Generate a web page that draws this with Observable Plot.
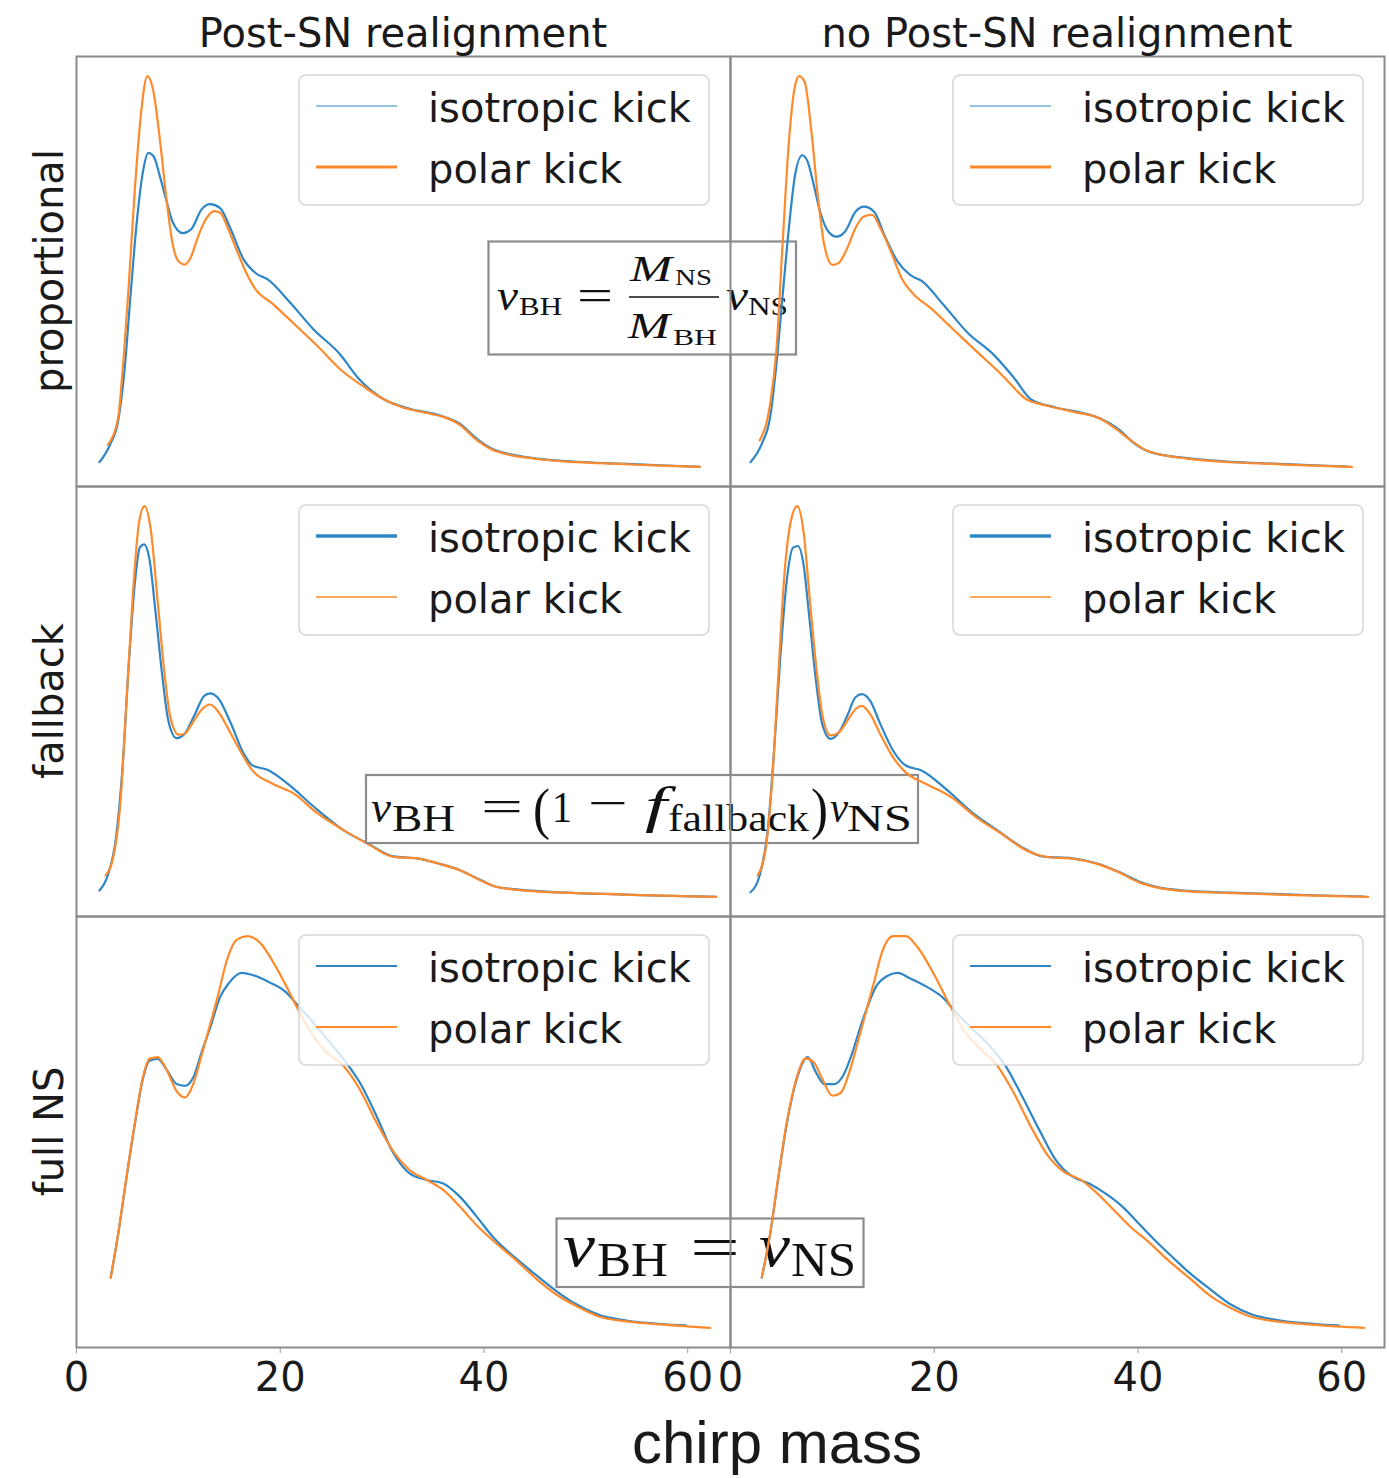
<!DOCTYPE html>
<html><head><meta charset="utf-8">
<script src="https://cdn.jsdelivr.net/npm/d3@7"></script>
<script src="https://cdn.jsdelivr.net/npm/@observablehq/plot@0.6"></script>
<style>
html,body{margin:0;padding:0;background:#fff;}
#chart{position:relative;width:1389px;height:1478px;overflow:hidden;background:#fff;}
#chart > svg{position:absolute;}
</style></head><body><div id="chart"></div>
<script>
// ---------- labels ----------
const columnTitles = ["Post-SN realignment", "no Post-SN realignment"];
const rowLabels = ["proportional", "fallback", "full NS"];
const seriesNames = ["isotropic kick", "polar kick"];
const xTicks = [0, 20, 40, 60];
const xLabel = "chirp mass";

// ---------- data: [chirp mass, density (arb. units)] ----------
const isoPropRealign = [[2.25,5.8],[3.28,9.8],[4.1,15.5],[4.71,27],[5.32,45],[5.94,62],[6.55,73.5],[7.04,77.5],[7.57,76.7],[8.18,72.1],[8.8,66.7],[9.42,61.6],[10.43,58.9],[11.26,59.8],[12.28,64.4],[13.1,65.6],[14.1,64.7],[15.14,59.8],[16.4,52.8],[17.6,49.6],[18.8,48.1],[20.9,43.0],[23.3,36.5],[25.8,31.0],[27.8,24.9],[30.3,20.2],[32.7,18.2],[35.6,16.7],[37.65,14.7],[39.3,11.2],[40.9,8.8],[45.0,6.7],[49.1,5.9],[53.2,5.5],[57.3,5.1],[61.2,4.7]];
const polarPropRealign = [[3.07,9.8],[4.1,16.3],[4.5,26.3],[5.1,45.8],[5.73,69.1],[6.34,86.8],[6.96,95.3],[7.57,91.5],[8.18,80.7],[8.8,67.4],[9.42,56.6],[10.03,52.3],[10.64,51.6],[11.26,53.5],[11.87,57.7],[12.7,62.1],[13.5,64.0],[14.1,63.6],[14.9,59.8],[15.7,55.1],[16.6,50.0],[17.6,45.8],[19.2,42.6],[21.3,38.0],[23.7,32.6],[26.2,26.7],[28.2,23.3],[30.3,20.2],[31.9,18.6],[34.8,17.0],[36.0,16.3],[37.65,14.4],[39.3,10.9],[40.9,8.6],[45.0,6.6],[49.1,5.8],[53.2,5.4],[57.3,5.0],[61.2,4.7]];
const isoPropNo = [[1.96,5.8],[3.07,10.1],[3.89,16.3],[4.5,28.5],[5.11,44.5],[5.73,60.5],[6.34,72.9],[7.04,77.5],[7.57,76.0],[8.18,70.5],[8.8,64.3],[9.6,59.7],[10.4,58.5],[11.25,59.7],[12.27,64.3],[13.1,65.5],[14.1,64.3],[15.1,58.9],[16.4,52.7],[17.6,49.6],[18.8,48.1],[20.9,42.6],[23.3,36.0],[25.8,31.0],[27.8,25.6],[29.5,20.5],[31.9,18.6],[34.8,17.2],[36.4,15.9],[38.05,13.6],[39.7,10.1],[41.3,8.1],[45,6.7],[49.1,5.9],[53.2,5.5],[57.3,5.1],[60.6,4.8]];
const polarPropNo = [[2.86,10.9],[3.89,19.4],[4.5,31.8],[5.11,56.6],[5.73,80.6],[6.34,93.8],[6.75,96.0],[7.28,94.6],[7.98,82.2],[8.6,67.4],[9.2,56.6],[10.0,51.9],[10.6,52.3],[11.46,55.8],[12.27,60.5],[13.1,63.2],[13.9,63.6],[14.7,60.5],[15.75,55.0],[16.8,48.8],[18.0,45.0],[19.6,41.9],[21.7,37.2],[24.1,31.8],[26.6,26.3],[29.05,20.5],[31.1,19.0],[34.0,17.4],[36.0,16.3],[37.6,14.0],[39.3,10.9],[40.9,8.5],[45,6.6],[49.1,5.8],[53.2,5.4],[57.3,5.0],[61.0,4.7]];
const isoFallRealign = [[2.25,6.2],[3.07,9.7],[3.89,18.6],[4.5,34.1],[5.1,57.4],[5.73,77.5],[6.22,85.7],[6.63,86.4],[7.16,83.0],[7.77,70.5],[8.39,56.6],[9.0,45.7],[9.82,41.5],[10.64,42.6],[11.67,47.3],[12.5,51.2],[13.1,51.9],[13.9,50.8],[15.14,45.0],[16.4,38.0],[17.2,35.3],[18.8,34.1],[20.9,30.6],[23.3,25.6],[26.2,20.2],[28.6,17.1],[31.1,14.1],[33.6,13.6],[35.6,12.4],[37.65,10.9],[39.7,8.6],[41.3,7.0],[45,6.1],[49.1,5.6],[53.2,5.3],[57.3,5.0],[62.8,4.7]];
const polarFallRealign = [[2.86,9.7],[3.68,14.7],[4.3,26.3],[4.9,49.6],[5.52,74.4],[6.14,91.5],[6.67,95.3],[7.28,90.0],[7.98,72.9],[8.6,57.4],[9.2,46.5],[10.03,42.3],[10.64,42.6],[11.46,45.3],[12.28,48.1],[13.1,49.3],[13.9,47.7],[15.14,42.6],[16.4,37.2],[17.2,34.2],[19.2,31.0],[21.3,28.7],[23.7,24.0],[26.2,20.2],[28.6,17.0],[31.1,14.0],[33.6,13.6],[35.6,12.4],[37.65,10.9],[39.7,8.5],[41.3,7.0],[45,6.0],[49.1,5.6],[53.2,5.3],[57.3,5.0],[62.8,4.7]];
const isoFallNo = [[1.96,5.8],[2.86,9.7],[3.68,20.9],[4.3,39.5],[4.91,61.2],[5.52,78.3],[6.14,86.0],[6.63,86.4],[7.16,82.2],[7.77,69.0],[8.39,55.0],[9.0,45.0],[9.82,41.5],[10.64,43.0],[11.46,46.9],[12.27,51.2],[12.9,51.9],[13.7,50.4],[14.7,45.0],[15.96,38.8],[17.2,35.3],[18.8,34.1],[21.3,29.5],[23.7,24.4],[26.2,20.2],[28.6,16.3],[30.7,14.1],[33.55,13.7],[36.0,12.5],[38.05,10.6],[40.1,8.3],[41.7,7.1],[45,6.1],[49.1,5.7],[53.2,5.4],[57.3,5.1],[62.2,4.8]];
const polarFallNo = [[2.66,9.7],[3.48,16.3],[4.09,31.8],[4.7,56.6],[5.32,80.6],[5.93,92.3],[6.55,95.7],[7.16,89.9],[7.77,74.4],[8.39,58.9],[9.0,47.3],[9.82,42.3],[10.64,43.0],[11.46,45.7],[12.27,48.4],[12.9,49.2],[13.7,47.3],[14.7,42.6],[15.96,37.2],[17.2,33.7],[19.2,31.0],[21.7,27.9],[24.1,23.3],[26.6,19.4],[29.05,15.5],[31.1,14.0],[33.55,13.6],[36.0,12.4],[38.05,10.5],[40.1,8.1],[41.7,7.0],[45,6.0],[49.1,5.6],[53.2,5.3],[57.3,5.0],[62.6,4.7]];
const isoNSRealign = [[3.36,16.5],[4.09,26.5],[4.91,39.5],[5.73,51.9],[6.55,62.6],[7.16,66.5],[7.98,66.9],[8.8,64.6],[9.82,61.1],[10.64,60.7],[11.46,62.6],[12.28,68.4],[13.1,73.9],[14.1,81.2],[14.94,84.3],[16.2,86.7],[17.2,86.3],[18.8,84.7],[20.5,82.4],[21.7,79.3],[22.9,76.2],[24.55,71.6],[26.2,66.9],[27.8,61.5],[29.46,53.7],[31.1,45.2],[32.7,40.5],[34.4,39.0],[36.0,38.2],[37.65,35.1],[39.3,30.5],[40.9,25.8],[43.0,21.2],[45.0,17.3],[47.1,13.4],[49.1,10.3],[51.2,8.0],[54.0,6.6],[57.3,5.8],[59.8,5.5]];
const polarNSRealign = [[3.36,16.5],[4.09,26.6],[4.91,39.8],[5.73,52.2],[6.55,63.0],[7.16,66.9],[7.98,67.3],[8.8,64.6],[9.82,59.5],[10.64,58.0],[11.46,61.1],[12.28,67.7],[13.1,74.7],[13.9,81.6],[14.73,89.4],[15.75,94.4],[16.78,95.2],[18.0,93.7],[19.65,87.8],[20.87,82.4],[21.7,78.5],[22.9,73.5],[24.55,68.4],[26.2,65.3],[27.8,59.9],[29.46,52.2],[31.1,45.6],[32.7,41.3],[34.4,39.0],[36.0,36.7],[37.65,32.8],[39.3,28.5],[40.9,25.0],[43.0,20.8],[45.0,16.5],[47.1,12.6],[49.1,9.9],[51.2,7.6],[54.0,6.4],[57.3,5.7],[62.2,4.9]];
const isoNSNo = [[3.07,16.5],[3.89,26.5],[4.7,39.5],[5.52,51.9],[6.55,62.6],[7.57,67.3],[8.39,63.8],[9.2,61.1],[10.2,61.1],[11.05,63.0],[11.87,67.7],[12.7,73.9],[13.5,79.3],[14.3,83.6],[15.3,85.9],[16.4,86.7],[17.6,85.5],[19.2,83.6],[20.9,80.9],[22.1,77.7],[23.7,73.9],[25.4,70.0],[27.0,65.3],[28.6,58.4],[30.3,50.6],[31.9,43.7],[33.55,39.8],[35.2,38.2],[36.8,35.9],[38.5,32.8],[40.1,28.9],[41.7,25.0],[43.4,21.2],[45,17.7],[47.1,13.8],[49.1,10.3],[51.2,8.0],[54.0,6.6],[57.3,5.8],[59.7,5.5]];
const polarNSNo = [[3.07,16.5],[3.89,26.6],[4.7,39.8],[5.52,52.2],[6.55,63.0],[7.36,67.0],[8.18,66.1],[9.0,62.3],[10.0,58.4],[10.84,59.1],[11.66,63.8],[12.5,70.8],[13.3,77.7],[14.1,84.7],[14.9,91.7],[15.96,95.2],[17.2,95.2],[18.4,92.5],[20.0,86.3],[21.7,78.5],[22.9,73.5],[24.55,69.2],[26.2,65.3],[27.8,59.1],[29.46,51.4],[31.1,44.8],[32.7,40.9],[34.4,39.0],[36.0,35.9],[37.65,32.0],[39.3,28.1],[40.9,25.0],[43.0,20.4],[45,16.5],[47.1,12.3],[49.1,9.5],[51.2,7.4],[54.0,6.3],[57.3,5.6],[62.2,4.9]];

// ---------- layout / style ----------
const blue = "#2f86c6", orange = "#fe8a2c";
const panelW = 654, rowH = [430, 430, 431];
const colX = [76, 730], rowY = [56, 486, 916];
const pad = 2;
const legendWidths = [[1.2, 3], [3.5, 1.5], [2.2, 2.2]];
const sansFont = "'DejaVu Sans', sans-serif";
const serifFont = "'Liberation Serif', 'DejaVu Serif', serif";

const panels = [
  {row:0, col:0, iso: isoPropRealign, polar: polarPropRealign},
  {row:1, col:0, iso: isoFallRealign, polar: polarFallRealign},
  {row:2, col:0, iso: isoNSRealign, polar: polarNSRealign},
  {row:0, col:1, iso: isoPropNo, polar: polarPropNo},
  {row:1, col:1, iso: isoFallNo, polar: polarFallNo},
  {row:2, col:1, iso: isoNSNo, polar: polarNSNo}
];

const chart = d3.select("#chart");

function drawPanel(p) {
  const vals = [...p.iso, ...p.polar].map(d => d[1]);
  const lo = d3.min(vals), hi = d3.max(vals), r = hi - lo;
  const withAxis = p.row === 2;
  const mb = withAxis ? 70 : pad;
  const marks = [
    Plot.line(p.iso, {x: d => d[0], y: d => d[1], stroke: blue, strokeWidth: 2.2, curve: "monotone-x"}),
    Plot.line(p.polar, {x: d => d[0], y: d => d[1], stroke: orange, strokeWidth: 2.2, curve: "monotone-x"}),
    Plot.frame({stroke: "#8a8a8a", strokeWidth: 2})
  ];
  if (withAxis) marks.push(Plot.axisX(xTicks, {tickSize: 6, tickPadding: 9, stroke: "#999", fill: "#1a1a1a", label: null}));
  const svg = Plot.plot({
    width: panelW + 2 * pad,
    height: rowH[p.row] + pad + mb,
    marginLeft: pad, marginRight: pad, marginTop: pad, marginBottom: mb,
    x: {domain: [0, 64.2], axis: withAxis ? undefined : null},
    y: {domain: [lo - 0.05 * r, hi + 0.05 * r], axis: null},
    style: {background: "transparent", fontFamily: sansFont, fontSize: "40px", overflow: "visible", color: "#1a1a1a"},
    marks
  });
  svg.style.position = "absolute";
  svg.style.left = (colX[p.col] - pad) + "px";
  svg.style.top = (rowY[p.row] - pad) + "px";
  svg.style.maxWidth = "none";

  // legend
  const g = d3.select(svg).append("g").attr("text-anchor", "start");
  const lx = pad + 223, ly = pad + 19;
  g.append("rect").attr("x", lx).attr("y", ly).attr("width", 410).attr("height", 130)
    .attr("rx", 7).attr("fill", "white").attr("fill-opacity", 0.8)
    .attr("stroke", "#d6d6d6").attr("stroke-width", 1.5);
  const legY = [50, 111];
  seriesNames.forEach((name, i) => {
    const yy = pad + legY[i];
    g.append("line").attr("x1", lx + 17).attr("x2", lx + 98).attr("y1", yy).attr("y2", yy)
      .attr("stroke", i === 0 ? blue : orange).attr("stroke-width", legendWidths[p.row][i]);
    g.append("text").attr("x", lx + 129).attr("y", yy + 15.5).attr("text-anchor", "start")
      .attr("font-family", sansFont).attr("font-size", 40).attr("fill", "#1a1a1a").text(name);
  });
  chart.node().appendChild(svg);
}

// left column first
panels.filter(p => p.col === 0).forEach(drawPanel);

// formula boxes (between left and right columns in z-order)
const boxes = chart.append("svg").attr("width", 1389).attr("height", 1478)
  .style("left", "0px").style("top", "0px").style("pointer-events", "none");
const formulas = [
  {rect: [488.5, 241.5, 307.5, 113], bar: [629, 719, 297], pieces: [
    {t:"v",x:497,y:310,s:44,i:1,w:21},{t:"BH",x:519,y:315,s:25,w:43},{t:"=",x:577,y:310,s:44,w:36},
    {t:"M",x:630,y:281,s:36,i:1,w:42},{t:"NS",x:675,y:285,s:23,w:37},
    {t:"M",x:628,y:338,s:36,i:1,w:42},{t:"BH",x:673,y:345,s:23,w:44},
    {t:"v",x:726,y:310,s:44,i:1,w:22},{t:"NS",x:748,y:315,s:25,w:40}]},
  {rect: [366, 775, 552, 68], pieces: [
    {t:"v",x:371,y:822,s:44,i:1,w:20},{t:"BH",x:392,y:831,s:37,w:63},{t:"=",x:481,y:821,s:44,w:42},
    {t:"(",x:533,y:828,s:58,w:17},{t:"1",x:552,y:822,s:45,w:20},{t:"\u2212",x:588,y:818,s:44,w:40},
    {t:"f",x:645,y:822,s:50,i:1,w:22},{t:"fallback",x:668,y:831,s:37,w:141},{t:")",x:811,y:828,s:58,w:17},
    {t:"v",x:830,y:822,s:44,i:1,w:18},{t:"NS",x:847,y:831,s:37,w:65}]},
  {rect: [556.5, 1218.5, 307, 68.5], pieces: [
    {t:"v",x:563,y:1266,s:62,i:1,w:32},{t:"BH",x:597,y:1276,s:48,w:71},{t:"=",x:690,y:1268,s:62,w:50},
    {t:"v",x:759,y:1266,s:62,i:1,w:31},{t:"NS",x:791,y:1276,s:48,w:65}]}
];
formulas.forEach(f => {
  const [x, y, w, h] = f.rect;
  boxes.append("rect").attr("x", x).attr("y", y).attr("width", w).attr("height", h)
    .attr("fill", "white").attr("stroke", "#8c8c8c").attr("stroke-width", 2.2);
  if (f.bar) boxes.append("line").attr("x1", f.bar[0]).attr("x2", f.bar[1]).attr("y1", f.bar[2]).attr("y2", f.bar[2])
    .attr("stroke", "#111").attr("stroke-width", 1.6);
  f.pieces.forEach(p => {
    const t = boxes.append("text").attr("x", p.x).attr("y", p.y)
      .attr("font-family", serifFont).attr("font-size", p.s)
      .attr("font-style", p.i ? "italic" : "normal").attr("fill", "#111").text(p.t);
    if (p.w) t.attr("textLength", p.w).attr("lengthAdjust", "spacingAndGlyphs");
  });
});

// right column
panels.filter(p => p.col === 1).forEach(drawPanel);

// titles and labels
const labels = chart.append("svg").attr("width", 1389).attr("height", 1478)
  .style("left", "0px").style("top", "0px").style("pointer-events", "none");
columnTitles.forEach((t, i) => {
  labels.append("text").attr("x", colX[i] + panelW / 2).attr("y", 47).attr("text-anchor", "middle")
    .attr("font-family", sansFont).attr("font-size", 40).attr("fill", "#1a1a1a").text(t);
});
rowLabels.forEach((t, i) => {
  const cy = rowY[i] + rowH[i] / 2;
  labels.append("text").attr("transform", `translate(63,${cy}) rotate(-90)`).attr("text-anchor", "middle")
    .attr("font-family", sansFont).attr("font-size", 40).attr("fill", "#1a1a1a").text(t);
});
labels.append("text").attr("x", 777).attr("y", 1463).attr("text-anchor", "middle")
  .attr("font-family", "'Liberation Sans', Arial, sans-serif").attr("font-size", 60).attr("fill", "#1a1a1a").text(xLabel);
</script></body></html>
